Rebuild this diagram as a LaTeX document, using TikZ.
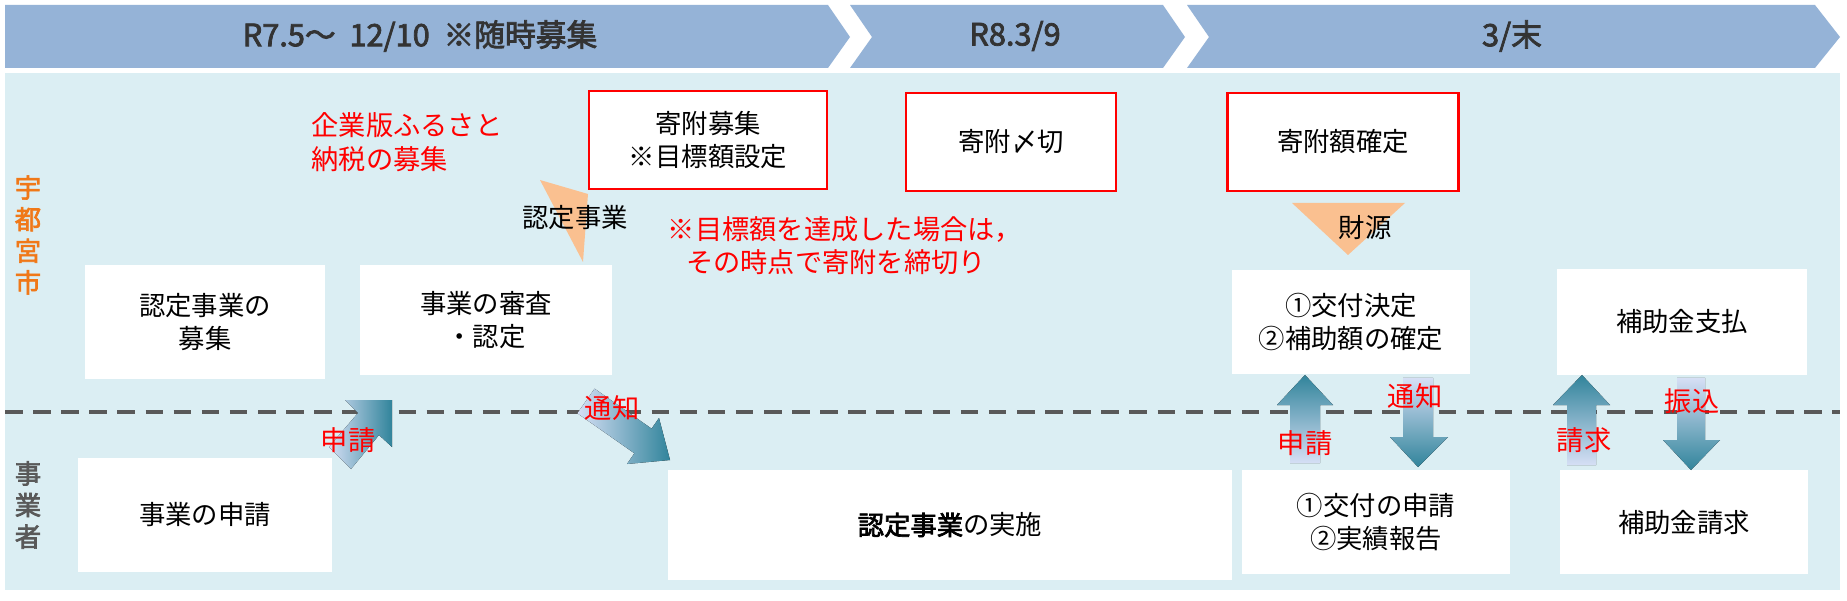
\documentclass[tikz,border=0pt]{standalone}
\usepackage{fontspec}
\setmainfont{Noto Sans CJK JP}
\newfontfamily\jpb{Noto Sans CJK JP}[FakeBold=2.5]
\definecolor{hdr}{HTML}{95B3D7}
\definecolor{bgp}{HTML}{DBEEF3}
\definecolor{peach}{HTML}{FAC090}
\definecolor{teal}{HTML}{31849B}
\definecolor{lav}{HTML}{D6DFF5}
\definecolor{orng}{HTML}{F07818}
\definecolor{dgray}{HTML}{595959}
\tikzset{
 box/.style={fill=white,draw=none,align=center,font=\fontsize{15}{19}\selectfont,inner sep=0pt},
 rbox/.style={box,draw=red,line width=1.3pt},
 redt/.style={text=red,font=\fontsize{15.5}{19}\selectfont,align=left},
 hd/.style={font=\jpb\fontsize{17.5}{20}\selectfont,text=black!80},
 upar/.style={top color=teal,bottom color=lav,draw=none},
 dnar/.style={top color=lav,bottom color=teal,draw=none},
 dgar/.style={left color=lav,right color=teal,draw=none},
}
\begin{document}
\begin{tikzpicture}[x=0.02cm,y=-0.02cm]
\useasboundingbox (0,0) rectangle (1847,601);
\fill[white] (0,0) rectangle (1847,601);
% header chevrons
\fill[hdr] (5,5)--(828,5)--(850,37)--(828,68)--(5,68)--cycle;
\fill[hdr] (850,5)--(1163,5)--(1185,37)--(1163,68)--(850,68)--(872,37)--cycle;
\fill[hdr] (1187,5)--(1815,5)--(1840,37)--(1815,68)--(1187,68)--(1209,37)--cycle;
\node[hd] (h1) at (420,36) {R7.5～\ \ 12/10\ \ ※随時募集};
\node[hd] (h2) at (1015,36) {R8.3/9};
\node[hd] (h3) at (1512,36) {3/末};
% panel
\fill[bgp] (5,73) rectangle (1840,590);
\draw[dgray,line width=2.2pt,dash pattern=on 10pt off 6pt] (5,412)--(1840,412);
% side labels
\node[text=orng,font=\jpb\fontsize{15}{18}\selectfont,align=center] (l1) at (28,235) {宇\\都\\宮\\市};
\node[text=dgray,font=\jpb\fontsize{15}{18}\selectfont,align=center] (l2) at (28,505) {事\\業\\者};
% boxes
\node[box,minimum width=4.8cm,minimum height=2.3cm] (a1) at (205,322) {認定事業の\\募集};
\node[box,minimum width=5.04cm,minimum height=2.2cm] (a2) at (486,320) {事業の審査\\・認定};
\node[rbox,minimum width=4.75cm,minimum height=1.95cm] (a3) at (708,140) {寄附募集\\※目標額設定};
\node[rbox,minimum width=4.2cm,minimum height=1.95cm] (a4) at (1011,142) {寄附〆切};
\node[rbox,minimum width=4.62cm,minimum height=1.95cm] (a5) at (1343,142) {寄附額確定};
\node[box,minimum width=4.76cm,minimum height=2.1cm] (a6) at (1351,322) {①交付決定\\②補助額の確定};
\node[box,minimum width=5.0cm,minimum height=2.14cm] (a7) at (1682,322) {補助金支払};
\node[box,minimum width=5.08cm,minimum height=2.28cm] (b1) at (205,515) {事業の申請};
\node[box,minimum width=11.3cm,minimum height=2.2cm] (b2) at (950,525) {{\jpb 認定事業}の実施};
\node[box,minimum width=5.36cm,minimum height=2.1cm] (b3) at (1376,522) {①交付の申請\\②実績報告};
\node[box,minimum width=4.96cm,minimum height=2.1cm] (b4) at (1684,522) {補助金請求};
% red notes
\node[redt] (n1) at (407,142) {企業版ふるさと\\納税の募集};
\node[redt] (n2) at (845,246) {※目標額を達成した場合は，\\\ \ \ その時点で寄附を締切り};
% peach triangles
\fill[peach] (540,180)--(588,194)--(583,262)--cycle;
\node[box,fill=none] (t1) at (575,218) {認定事業};
\fill[peach] (1292,203)--(1405,203)--(1348,255)--cycle;
\node[box,fill=none] (t2) at (1365,228) {財源};
% diagonal arrows
\fill[dgar] (329,447)--(358,413)--(345,400)--(392,400)--(392,447)--(379,435)--(351,469)--cycle;
\fill[dgar] (594.6,388.7)--(651.6,428.7)--(659,418)--(670,460)--(627,464)--(634.4,453.3)--(577.4,413.3)--cycle;
% vertical arrows
\fill[upar] (1290,463)--(1290,405)--(1277,405)--(1305,375)--(1333,405)--(1320,405)--(1320,463)--cycle;
\fill[dnar] (1403,378)--(1433,378)--(1433,437)--(1448,437)--(1418,467)--(1390,437)--(1403,437)--cycle;
\fill[upar] (1567,465)--(1567,405)--(1553,405)--(1582,375)--(1610,405)--(1596,405)--(1596,465)--cycle;
\fill[dnar] (1677,378)--(1705,378)--(1705,440)--(1720,440)--(1691,470)--(1663,440)--(1677,440)--cycle;
% arrow labels
\node[redt] (s1) at (348,440) {申請};
\node[redt] (s2) at (612,408) {通知};
\node[redt] (s3) at (1305,443) {申請};
\node[redt] (s4) at (1415,396) {通知};
\node[redt] (s5) at (1584,440) {請求};
\node[redt] (s6) at (1692,401) {振込};
\end{tikzpicture}
\end{document}
